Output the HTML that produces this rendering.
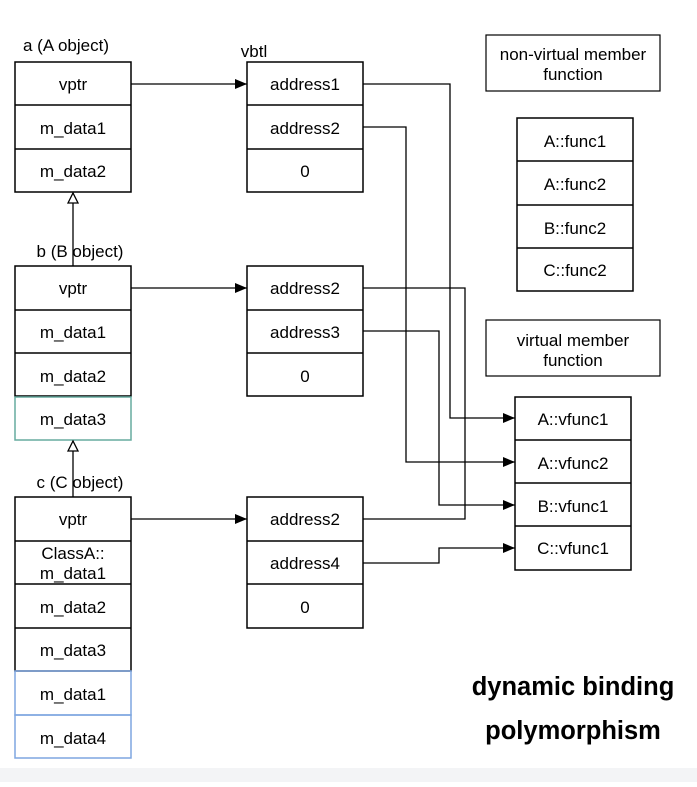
<!DOCTYPE html>
<html><head><style>body{margin:0;background:#fff}</style></head><body>
<svg width="697" height="782" xmlns="http://www.w3.org/2000/svg" font-family="Liberation Sans, sans-serif" font-size="17">
<defs><marker id="a" markerWidth="12" markerHeight="10" refX="12" refY="5" orient="auto" markerUnits="userSpaceOnUse"><path d="M0,0L12,5L0,10z" fill="#000"/></marker>
<marker id="h" markerWidth="12" markerHeight="12" refX="6" refY="1" orient="0" markerUnits="userSpaceOnUse"><path d="M1,11L6,1L11,11z" fill="#fff" stroke="#000" stroke-width="1.3"/></marker></defs>
<rect x="0" y="768" width="697" height="14" fill="#f3f4f6"/>
<g fill="none" stroke="#000" stroke-width="1.5">
<rect x="15" y="62" width="116" height="130"/><line x1="15" y1="105" x2="131" y2="105"/><line x1="15" y1="149" x2="131" y2="149"/>
<rect x="15" y="266" width="116" height="130"/><line x1="15" y1="310" x2="131" y2="310"/><line x1="15" y1="353" x2="131" y2="353"/>
<rect x="15" y="497" width="116" height="174"/><line x1="15" y1="541" x2="131" y2="541"/><line x1="15" y1="584" x2="131" y2="584"/><line x1="15" y1="628" x2="131" y2="628"/>
<rect x="247" y="62" width="116" height="130"/><line x1="247" y1="105" x2="363" y2="105"/><line x1="247" y1="149" x2="363" y2="149"/>
<rect x="247" y="266" width="116" height="130"/><line x1="247" y1="310" x2="363" y2="310"/><line x1="247" y1="353" x2="363" y2="353"/>
<rect x="247" y="497" width="116" height="131"/><line x1="247" y1="541" x2="363" y2="541"/><line x1="247" y1="584" x2="363" y2="584"/>
<rect x="486" y="35" width="174" height="56" stroke-width="1.2"/>
<rect x="486" y="320" width="174" height="56" stroke-width="1.2"/>
<rect x="517" y="118" width="116" height="173"/><line x1="517" y1="161" x2="633" y2="161"/><line x1="517" y1="205" x2="633" y2="205"/><line x1="517" y1="248" x2="633" y2="248"/>
<rect x="515" y="397" width="116" height="173"/><line x1="515" y1="440" x2="631" y2="440"/><line x1="515" y1="483" x2="631" y2="483"/><line x1="515" y1="526" x2="631" y2="526"/>
</g>
<rect x="15" y="397" width="116" height="43" fill="none" stroke="#67ab9f" stroke-width="1.5"/>
<rect x="15" y="671" width="116" height="44" fill="none" stroke="#7ea6e0" stroke-width="1.5"/>
<rect x="15" y="715" width="116" height="43" fill="none" stroke="#7ea6e0" stroke-width="1.5"/>
<g fill="none" stroke="#000" stroke-width="1.3">
<line x1="73" y1="266" x2="73" y2="193" marker-end="url(#h)"/>
<line x1="73" y1="497" x2="73" y2="441" marker-end="url(#h)"/>
<line x1="131" y1="84" x2="247" y2="84" marker-end="url(#a)"/>
<line x1="131" y1="288" x2="247" y2="288" marker-end="url(#a)"/>
<line x1="131" y1="519" x2="247" y2="519" marker-end="url(#a)"/>
<path d="M363,84H450V418H515" marker-end="url(#a)"/>
<path d="M363,127H406V462H515" marker-end="url(#a)"/>
<path d="M363,288H465V519H363"/>
<path d="M363,331H439V505H515" marker-end="url(#a)"/>
<path d="M363,563H439V548H515" marker-end="url(#a)"/>
</g>
<g text-anchor="middle">
<text x="66" y="51">a (A object)</text><text x="80" y="257">b (B   object)</text><text x="80" y="488">c (C   object)</text>
<text x="254" y="57">vbtl</text>
<text x="73" y="90">vptr</text><text x="73" y="134">m_data1</text><text x="73" y="177">m_data2</text>
<text x="73" y="294">vptr</text><text x="73" y="338">m_data1</text><text x="73" y="382">m_data2</text><text x="73" y="425">m_data3</text>
<text x="73" y="525">vptr</text><text x="73" y="559">ClassA::</text><text x="73" y="579">m_data1</text><text x="73" y="613">m_data2</text><text x="73" y="656">m_data3</text><text x="73" y="700">m_data1</text><text x="73" y="744">m_data4</text>
<text x="305" y="90">address1</text><text x="305" y="134">address2</text><text x="305" y="177">0</text>
<text x="305" y="294">address2</text><text x="305" y="338">address3</text><text x="305" y="382">0</text>
<text x="305" y="525">address2</text><text x="305" y="569">address4</text><text x="305" y="613">0</text>
<text x="573" y="60">non-virtual member</text><text x="573" y="80">function</text>
<text x="573" y="346">virtual member</text><text x="573" y="366">function</text>
<text x="575" y="147">A::func1</text><text x="575" y="190">A::func2</text><text x="575" y="234">B::func2</text><text x="575" y="276">C::func2</text>
<text x="573" y="425">A::vfunc1</text><text x="573" y="469">A::vfunc2</text><text x="573" y="512">B::vfunc1</text><text x="573" y="554">C::vfunc1</text>
<text x="573" y="695" font-size="25.5" font-weight="bold">dynamic binding</text>
<text x="573" y="739" font-size="25.5" font-weight="bold">polymorphism</text>
</g>
</svg>
</body></html>
